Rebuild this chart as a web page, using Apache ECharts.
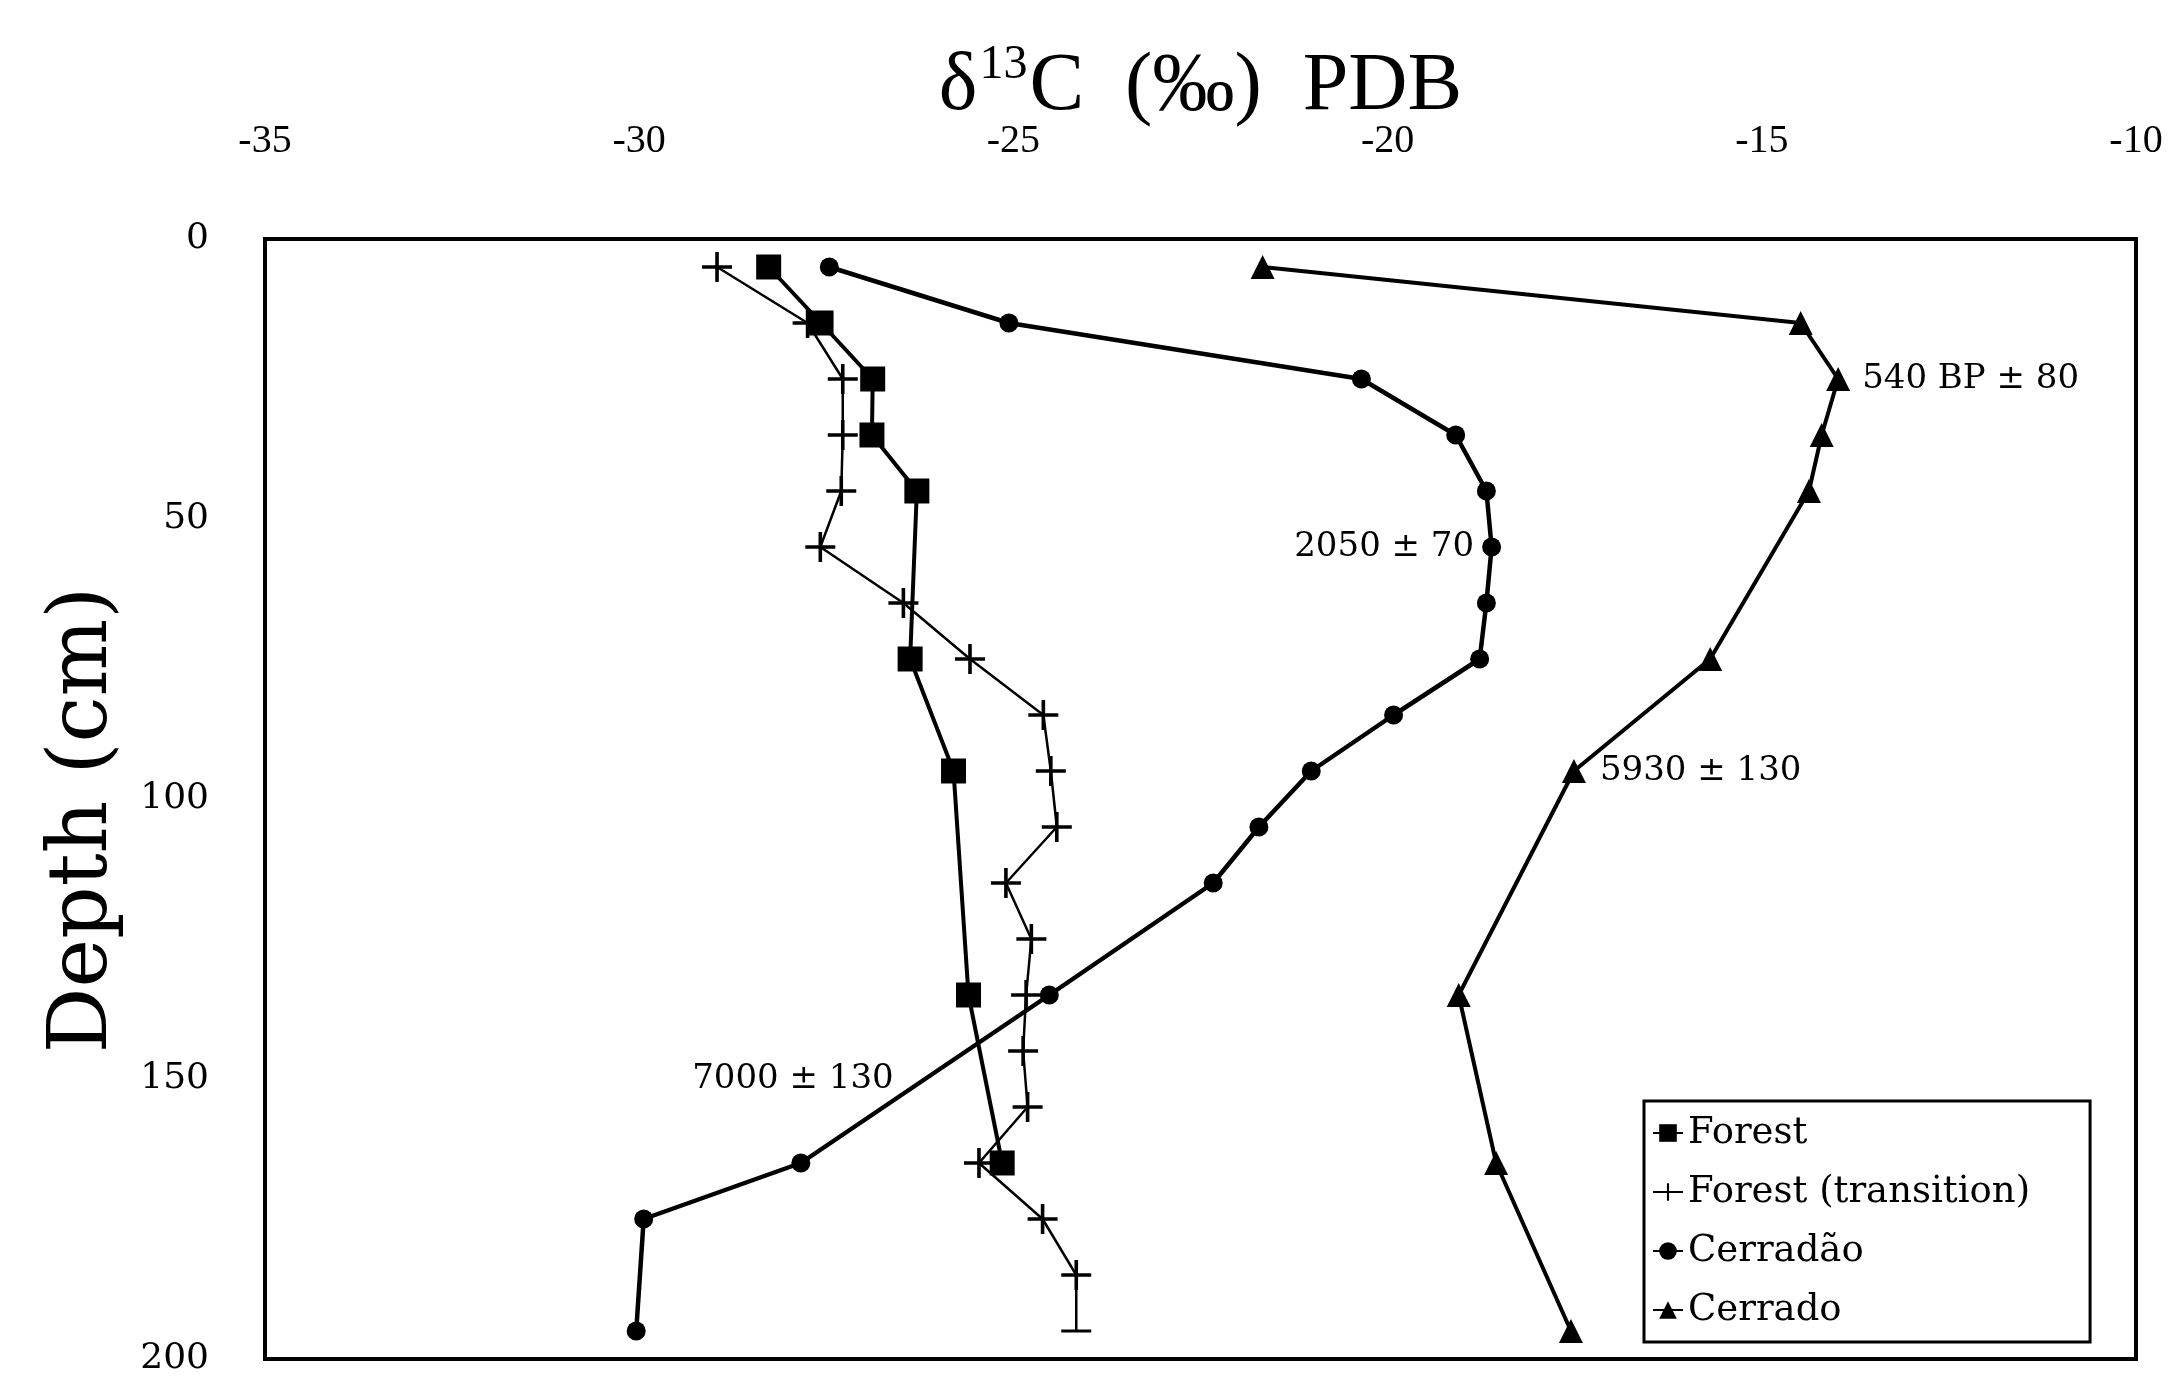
<!DOCTYPE html>
<html>
<head>
<meta charset="utf-8">
<script src="https://cdn.jsdelivr.net/npm/echarts@6/dist/echarts.min.js"></script>
<style>
  html, body { margin: 0; padding: 0; background: #fff; }
  #chart { width: 2180px; height: 1377px; }
</style>
</head>
<body>
<div id="chart"></div>
<script>
// depth (cm) and delta13C (per mil)
const forestDepth = [5, 15, 25, 35, 45, 75, 95, 135, 165];
const forestD13C = [-28.27, -27.57, -26.88, -26.89, -26.29, -26.38, -25.8, -25.6, -25.15];

const transitionDepth = [5, 15, 25, 35, 45, 55, 65, 75, 85, 95, 105, 115, 125, 135, 145, 155, 165, 175, 185, 195];
const transitionD13C = [-28.96, -27.75, -27.28, -27.28, -27.3, -27.58, -26.47, -25.58, -24.6, -24.5, -24.42, -25.1, -24.76, -24.83, -24.87, -24.81, -25.46, -24.61, -24.16, -24.16];

const cerradaoDepth = [5, 15, 25, 35, 45, 55, 65, 75, 85, 95, 105, 115, 135, 165, 175, 195];
const cerradaoD13C = [-27.46, -25.06, -20.35, -19.09, -18.68, -18.61, -18.68, -18.77, -19.92, -21.02, -21.72, -22.33, -24.52, -27.84, -29.94, -30.04];

const cerradoDepth = [5, 15, 25, 35, 45, 75, 95, 135, 165, 195];
const cerradoD13C = [-21.67, -14.48, -13.98, -14.2, -14.37, -15.69, -17.51, -19.05, -18.55, -17.55];

const seriesNames = ['Forest', 'Forest (transition)', 'Cerradão', 'Cerrado'];
const xTicks = [-35, -30, -25, -20, -15, -10];
const yTicks = [0, 50, 100, 150, 200];

// radiocarbon dates written next to the profiles
const dateLabels = ['540 BP ± 80', '2050 ± 70', '5930 ± 130', '7000 ± 130'];

function pairs(xs, depths) {
    return xs.map((v, i) => [v, depths[i]]);
}

function labelAt(data, depth, text, pos, dist) {
    return data.map(p => {
        if (p[1] !== depth) return p;
        return {
            value: p,
            label: {
                show: true, formatter: text, position: pos, distance: dist,
                color: '#000', fontFamily: 'DejaVu Serif', fontSize: 34
            }
        };
    });
}

const plus = 'path://M0,4.4H10V5.6H0Z M4.4,0H5.6V10H4.4Z';
const serif = 'DejaVu Serif';

const chart = echarts.init(document.getElementById('chart'));

let cerradoData = pairs(cerradoD13C, cerradoDepth);
cerradoData = labelAt(cerradoData, 25, dateLabels[0], 'right', 12);
cerradoData = labelAt(cerradoData, 95, dateLabels[2], 'right', 14);
let cerradaoData = labelAt(pairs(cerradaoD13C, cerradaoDepth), 55, dateLabels[1], 'left', 8);

// the deepest transition sample is drawn as a bar end in the original
let transitionData = pairs(transitionD13C, transitionDepth);
transitionData[transitionData.length - 1] = {
    value: transitionData[transitionData.length - 1],
    symbol: 'rect',
    symbolSize: [30, 3]
};

let option = {
    animation: false,
    backgroundColor: '#fff',
    grid: {
        left: 265, right: 44, top: 239, bottom: 9,
        show: true, borderColor: '#000', borderWidth: 4
    },
    xAxis: {
        type: 'value',
        position: 'top',
        min: xTicks[0], max: xTicks[xTicks.length - 1], interval: 5,
        name: '{a|δ}{b|13}{a|C  (‰)  PDB}',
        nameLocation: 'middle',
        nameGap: 106,
        nameMoveOverlap: false,
        nameTextStyle: {
            rich: {
                a: { fontFamily: 'Liberation Serif', fontSize: 82, color: '#000' },
                b: { fontFamily: 'Liberation Serif', fontSize: 48, color: '#000', padding: [0, 2, 44, 2] }
            }
        },
        axisLine: { show: false },
        axisTick: { show: false },
        splitLine: { show: false },
        axisLabel: {
            color: '#000', fontFamily: 'Liberation Serif', fontSize: 40, margin: 78,
            showMinLabel: true, showMaxLabel: true
        }
    },
    yAxis: {
        type: 'value',
        inverse: true,
        min: yTicks[0], max: yTicks[yTicks.length - 1], interval: 50,
        name: 'Depth (cm)',
        nameLocation: 'middle',
        nameGap: 139,
        nameTextStyle: { color: '#000', fontFamily: serif, fontSize: 82, padding: [0, 42, 0, 0] },
        axisLine: { show: false },
        axisTick: { show: false },
        splitLine: { show: false },
        axisLabel: {
            color: '#000', fontFamily: serif, fontSize: 36, margin: 56,
            showMinLabel: true, showMaxLabel: true
        }
    },
    legend: {
        orient: 'vertical',
        left: 1644, top: 1101,
        padding: [10, 60, 10, 8],
        itemGap: 15,
        itemWidth: 30, itemHeight: 22,
        borderColor: '#000', borderWidth: 3,
        textStyle: { color: '#000', fontFamily: serif, fontSize: 37, lineHeight: 44 },
        data: seriesNames
    },
    series: [
        {
            name: seriesNames[0], type: 'line',
            data: pairs(forestD13C, forestDepth),
            symbol: 'rect', symbolSize: 25,
            lineStyle: { color: '#000', width: 4 },
            itemStyle: { color: '#000' }
        },
        {
            name: seriesNames[1], type: 'line',
            data: transitionData,
            symbol: plus, symbolSize: 30,
            lineStyle: { color: '#000', width: 2.5 },
            itemStyle: { color: '#000' }
        },
        {
            name: seriesNames[2], type: 'line',
            data: cerradaoData,
            symbol: 'circle', symbolSize: 19,
            lineStyle: { color: '#000', width: 4.5 },
            itemStyle: { color: '#000' },
            markPoint: {
                symbolSize: 0,
                label: {
                    show: true, position: 'left', distance: 0,
                    color: '#000', fontFamily: serif, fontSize: 34
                },
                data: [{ coord: [-26.6, 150], value: dateLabels[3], label: { formatter: dateLabels[3] } }]
            }
        },
        {
            name: seriesNames[3], type: 'line',
            data: cerradoData,
            symbol: 'triangle', symbolSize: 24,
            lineStyle: { color: '#000', width: 4 },
            itemStyle: { color: '#000' }
        }
    ]
};
chart.setOption(option);
</script>
</body>
</html>
